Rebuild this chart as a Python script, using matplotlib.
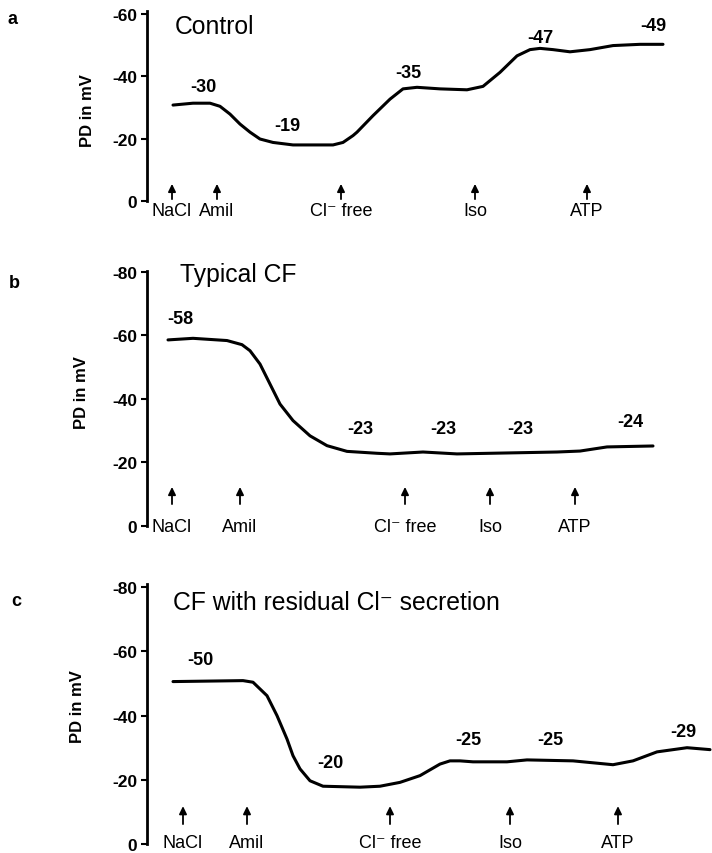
import matplotlib
matplotlib.use("Agg")
import matplotlib.pyplot as plt

plt.rcParams['font.family'] = ['Liberation Sans', 'DejaVu Sans']
plt.rcParams['axes.unicode_minus'] = False

W, H = 712, 854

# ---------------- data ----------------
# time axis in arbitrary units (recording time), PD values in mV
a_time = [26, 46, 63, 73, 83, 93, 103, 113, 126, 146, 186, 196, 206, 210, 226, 243, 256, 270, 293, 320, 336, 353, 370, 383, 393, 406, 423, 443, 466, 493, 516]
a_pd = [-30.8, -31.4, -31.4, -30.4, -27.9, -24.7, -22.1, -19.9, -18.8, -18.0, -18.0, -18.8, -21.0, -22.1, -27.4, -32.7, -36.0, -36.5, -36.0, -35.7, -36.8, -41.3, -46.6, -48.6, -49.0, -48.6, -47.9, -48.6, -49.9, -50.3, -50.3]

b_time = [21, 46, 80, 95, 103, 113, 123, 133, 146, 163, 180, 200, 230, 243, 276, 310, 360, 410, 433, 460, 506]
b_pd = [-58.6, -59.1, -58.4, -57.1, -55.2, -51.0, -44.7, -38.4, -33.2, -28.4, -25.3, -23.5, -22.9, -22.7, -23.3, -22.7, -23.0, -23.3, -23.6, -24.9, -25.2]

c_time = [26, 96, 106, 120, 130, 140, 146, 153, 163, 176, 213, 233, 253, 273, 293, 303, 313, 326, 360, 380, 426, 466, 486, 510, 540, 563]
c_pd = [-50.6, -50.9, -50.4, -46.2, -40.0, -32.7, -27.5, -23.4, -19.7, -18.0, -17.7, -18.0, -19.2, -21.3, -24.9, -25.9, -25.9, -25.6, -25.6, -26.2, -25.9, -24.7, -25.9, -28.7, -30.0, -29.4]

a_val_labels = ["-30", "-19", "-35", "-47", "-49"]
a_val_x = [56, 140, 261, 393, 506]
a_val_y = [-36.6, -24.1, -41.4, -52.6, -56.2]

b_val_labels = ["-58", "-23", "-23", "-23", "-24"]
b_val_x = [33, 213, 296, 373, 483]
b_val_y = [-65.2, -30.6, -30.6, -30.6, -32.8]

c_val_labels = ["-50", "-20", "-25", "-25", "-29"]
c_val_x = [53, 183, 321, 403, 536]
c_val_y = [-57.6, -25.5, -32.7, -32.7, -35.2]

events = ["NaCl", "Amil", "Cl\u207b free", "Iso", "ATP"]
a_event_t = [25, 70, 194, 328, 440]
b_event_t = [25, 93, 258, 343, 428]
c_event_t = [36, 100, 243, 363, 471]

a_ticks = [0, -20, -40, -60]
bc_ticks = [0, -20, -40, -60, -80]

panels = [
    dict(letter="a", title="Control", t=a_time, v=a_pd, vl=a_val_labels, vx=a_val_x, vy=a_val_y,
         ev=a_event_t, ticks=a_ticks, top=12, bottom=202, ymax=-61,
         arr=(-5.5, -0.6), lab=3.2, title_px=(175, 27), letter_px=(13, 20), ylab_px=(87, 111)),
    dict(letter="b", title="Typical CF", t=b_time, v=b_pd, vl=b_val_labels, vx=b_val_x, vy=b_val_y,
         ev=b_event_t, ticks=bc_ticks, top=272, bottom=527, ymax=-80.3,
         arr=(-12.3, -6.9), lab=0.0, title_px=(180, 275), letter_px=(14, 283), ylab_px=(82, 393)),
    dict(letter="c", title="CF with residual Cl\u207b secretion", t=c_time, v=c_pd, vl=c_val_labels, vx=c_val_x, vy=c_val_y,
         ev=c_event_t, ticks=bc_ticks, top=585, bottom=845, ymax=-81,
         arr=(-11.8, -6.2), lab=-0.6, title_px=(173, 603), letter_px=(16, 602), ylab_px=(78, 707)),
]

fig = plt.figure(figsize=(W / 100, H / 100), dpi=100)
fig.patch.set_facecolor("white")

left_px = 147
for p in panels:
    rect = [left_px / W, 1 - p["bottom"] / H, (W - left_px) / W, (p["bottom"] - p["top"]) / H]
    ax = fig.add_axes(rect)
    ax.set_xlim(0, W - left_px)
    ax.set_ylim(0, p["ymax"])
    for s in ["top", "right", "bottom"]:
        ax.spines[s].set_visible(False)
    ax.spines["left"].set_linewidth(2.0)
    ax.set_xticks([])
    ax.set_yticks(p["ticks"])
    ax.set_yticklabels([str(t) for t in p["ticks"]], fontweight="bold", fontsize=12.5)
    ax.tick_params(axis="y", direction="out", length=4, width=1.5, pad=3)
    ax.patch.set_alpha(0)

    ax.plot(p["t"], p["v"], color="black", lw=2.2, solid_capstyle="round", solid_joinstyle="round")

    for lbl, x, y in zip(p["vl"], p["vx"], p["vy"]):
        ax.text(x, y, lbl, ha="center", va="center", fontsize=13, fontweight="bold")

    for name, x in zip(events, p["ev"]):
        ax.annotate("", xy=(x, p["arr"][0]), xytext=(x, p["arr"][1]),
                    arrowprops=dict(arrowstyle="-|>,head_width=0.22,head_length=0.45",
                                    lw=1.3, color="black", shrinkA=0, shrinkB=0),
                    annotation_clip=False)
        ax.text(x, p["lab"], name, ha="center", va="center", fontsize=13, clip_on=False)

    fig.text(p["title_px"][0] / W, 1 - p["title_px"][1] / H, p["title"], ha="left", va="center", fontsize=17.8)
    fig.text(p["letter_px"][0] / W, 1 - p["letter_px"][1] / H, p["letter"], ha="center", va="center",
             fontsize=13, fontweight="bold")
    fig.text(p["ylab_px"][0] / W, 1 - p["ylab_px"][1] / H, "PD in mV", ha="center", va="center",
             rotation=90, fontsize=12, fontweight="bold")

fig.savefig("out.png", dpi=100)
